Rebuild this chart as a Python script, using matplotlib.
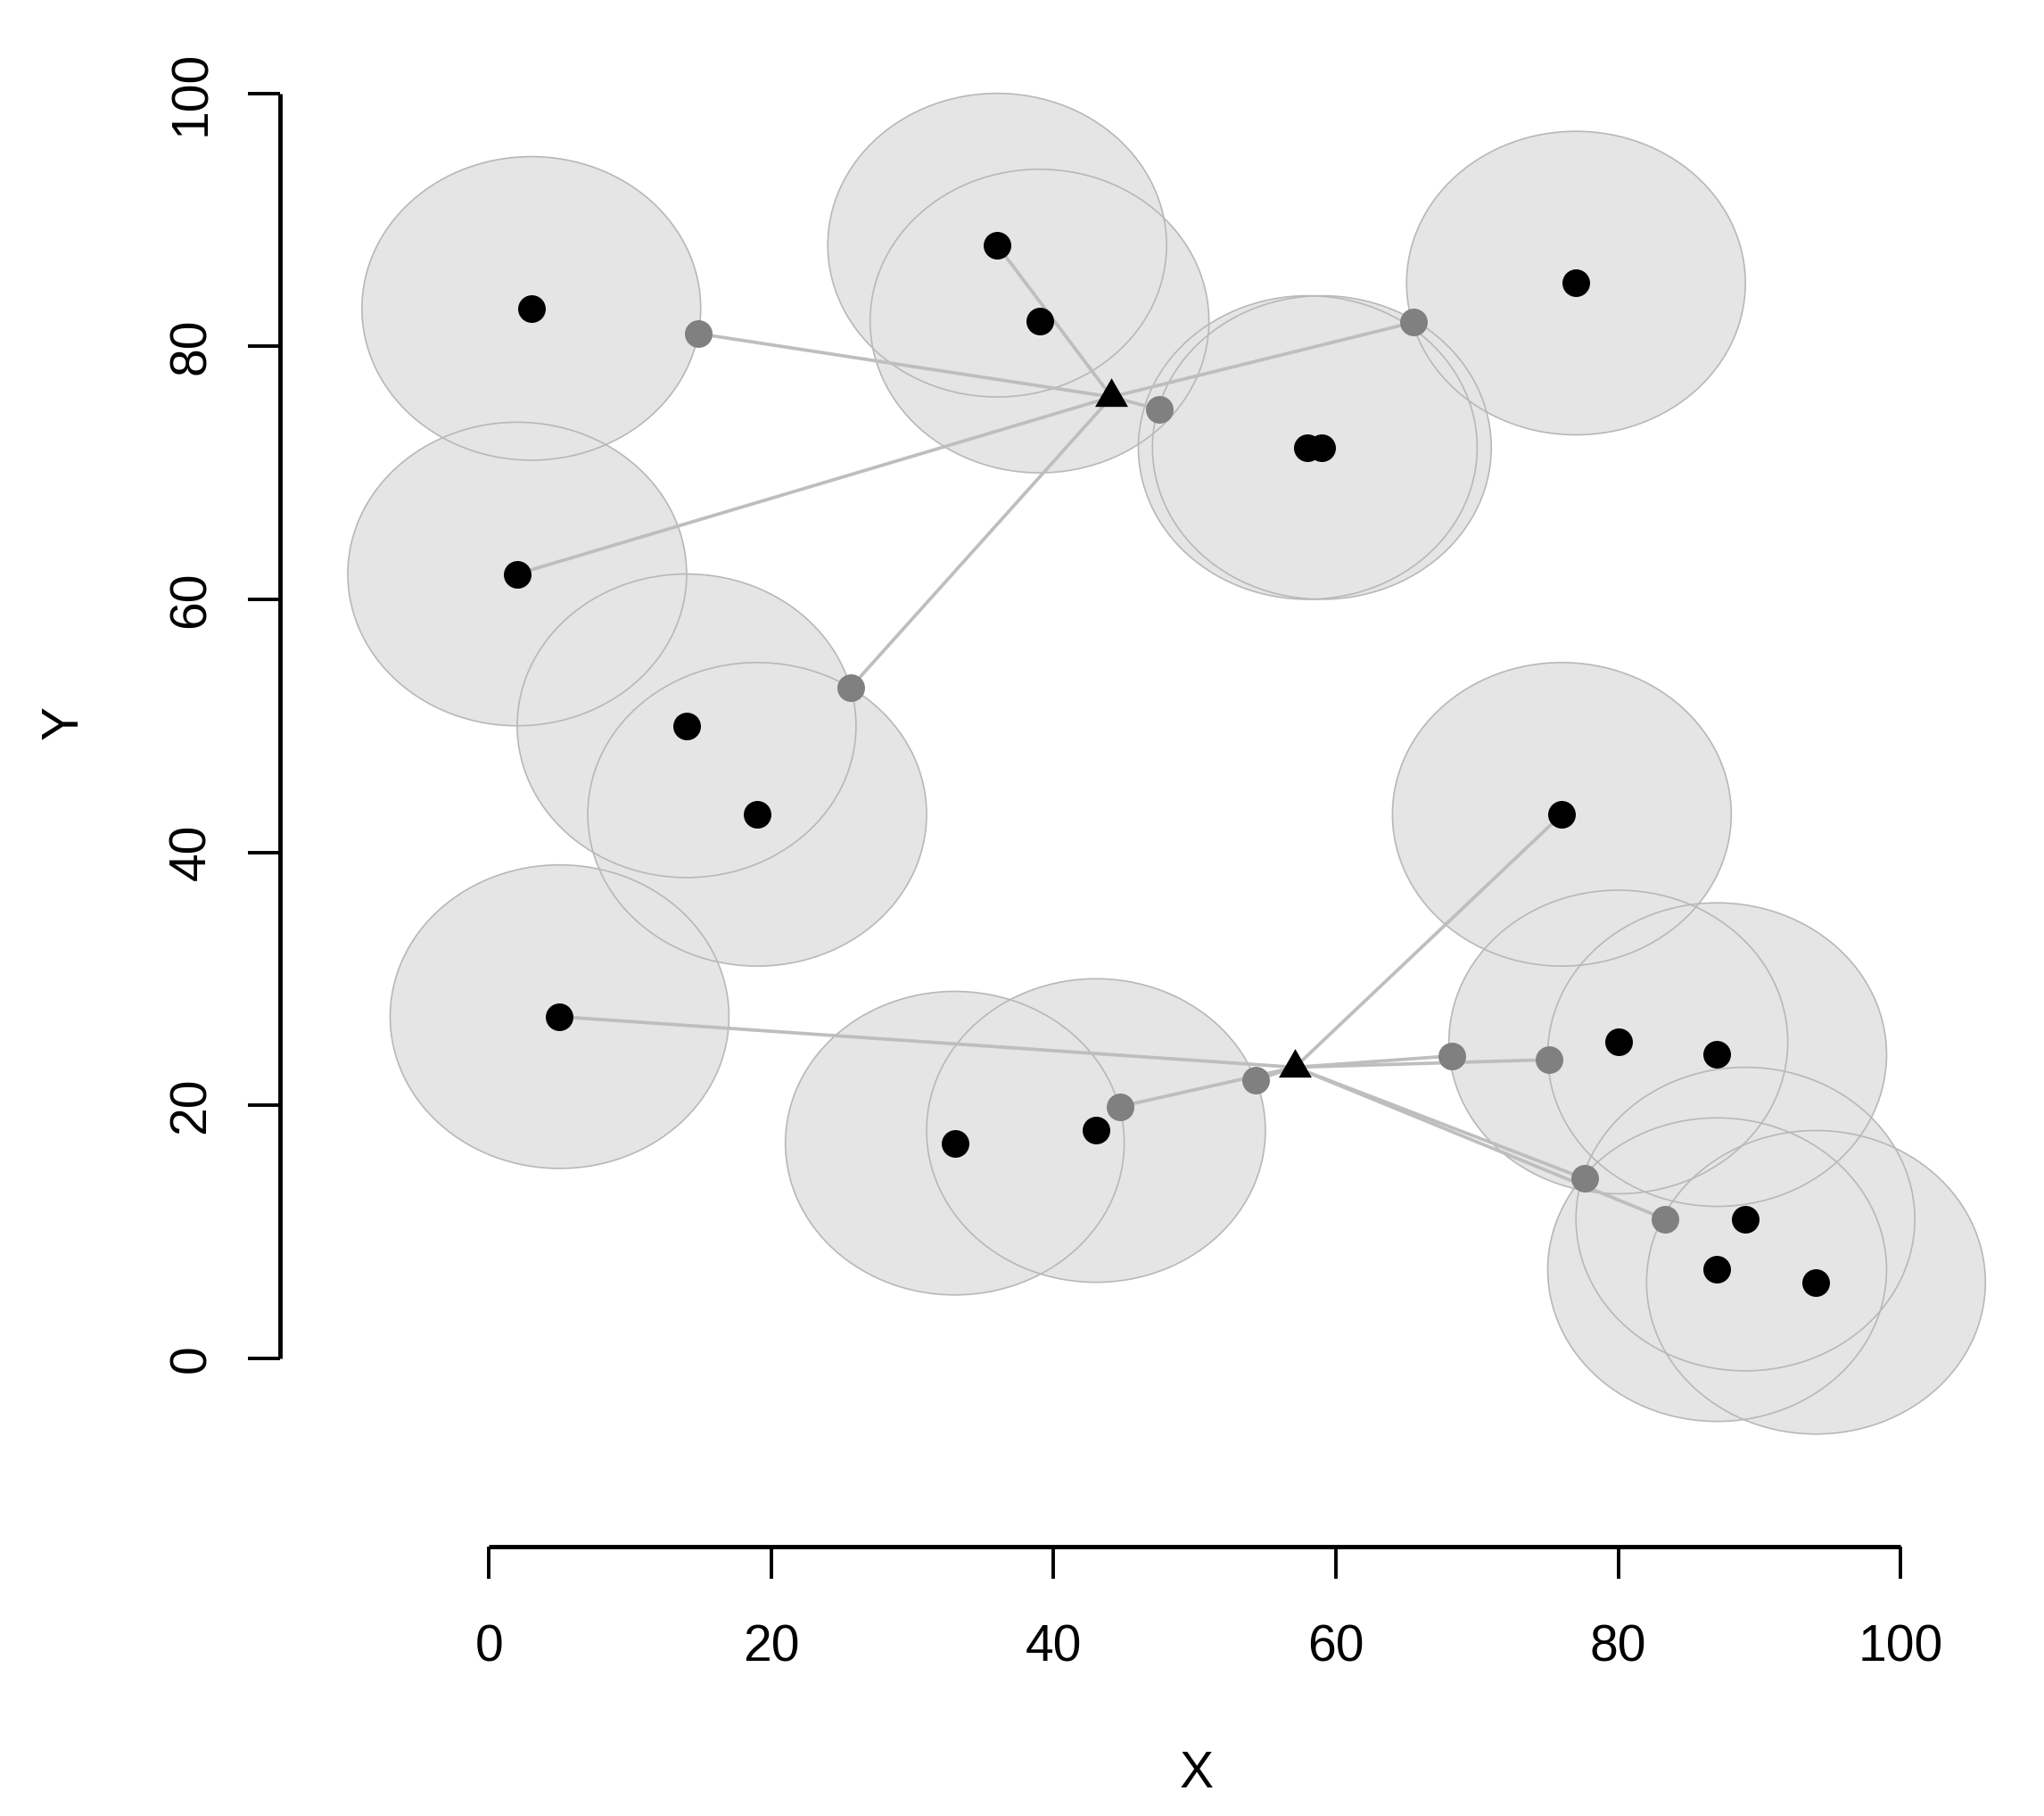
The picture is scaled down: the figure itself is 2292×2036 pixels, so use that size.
import matplotlib
matplotlib.use("Agg")
import matplotlib.pyplot as plt
from matplotlib.patches import Circle

# puntos de demanda (negros), cada uno con su región circular
punto_x = [3, 36, 39, 77, 58, 59, 2, 14, 19,
           5, 33, 43, 76, 80, 87, 89, 87, 94]
punto_y = [83, 88, 82, 85, 72, 72, 62, 50, 43,
           27, 17, 18, 43, 25, 24, 11, 7, 6]
radio = 12

# instalaciones (triángulos)
centro_x = [44.1, 57.1]
centro_y = [76.0, 23.0]

# puntos más cercanos sobre los círculos (grises)
gris_x = [14.85, 65.5, 47.5, 25.6, 44.7, 54.3, 68.2, 75.1, 77.6, 83.3]
gris_y = [81.0, 81.9, 75.0, 53.0, 19.9, 22.0, 23.9, 23.6, 14.2, 11.0]

# enlaces: índice de instalación -> extremo
enlace_centro = [0, 0, 0, 0, 0, 0, 1, 1, 1, 1, 1, 1, 1, 1]
enlace_x = [14.85, 65.5, 47.5, 25.6, 2, 36, 5, 76, 44.7, 54.3, 68.2, 75.1, 77.6, 83.3]
enlace_y = [81.0, 81.9, 75.0, 53.0, 62, 88, 27, 43, 19.9, 22.0, 23.9, 23.6, 14.2, 11.0]

ticks = [0, 20, 40, 60, 80, 100]

plt.rcParams['font.family'] = ['Liberation Sans', 'DejaVu Sans']

fig = plt.figure(figsize=(22.92, 20.36), dpi=100)
ax = fig.add_axes([0.1370, 0.14833, 0.84813, 0.84204])
ax.set_xlim(-14.8, 108)
ax.set_ylim(-14.9, 106)

# regiones: primero el relleno, luego los bordes
for x, y in zip(punto_x, punto_y):
    ax.add_patch(Circle((x, y), radio, facecolor='#E5E5E5', edgecolor='none', zorder=1))
for x, y in zip(punto_x, punto_y):
    ax.add_patch(Circle((x, y), radio, fill=False, edgecolor='#B8B8B8', lw=1.2, zorder=2))

for c, ex, ey in zip(enlace_centro, enlace_x, enlace_y):
    ax.plot([centro_x[c], ex], [centro_y[c], ey], color='#BEBEBE', lw=2.7,
            solid_capstyle='butt', zorder=3)

ax.plot(gris_x, gris_y, 'o', ms=22.3, color='#808080', mec='none', zorder=4)
ax.plot(punto_x, punto_y, 'o', ms=22.3, color='black', mec='none', zorder=5)

# triángulo centrado en su baricentro, como pch=17 de R
triangulo = [(0, 1), (-0.866, -0.5), (0.866, -0.5), (0, 1)]
ax.plot(centro_x, centro_y, linestyle='none', marker=triangulo, ms=30.7,
        color='black', mec='none', zorder=6)

for lado in ['top', 'right']:
    ax.spines[lado].set_visible(False)
for lado in ['left', 'bottom']:
    ax.spines[lado].set_bounds(0, 100)
    ax.spines[lado].set_linewidth(3.5)
    ax.spines[lado].set_capstyle('butt')

ax.set_xticks(ticks)
ax.set_yticks(ticks)
ax.tick_params(axis='both', direction='out', length=26, width=2.8, labelsize=41)
ax.tick_params(axis='x', pad=36)
ax.tick_params(axis='y', pad=26, labelrotation=90)
plt.setp(ax.get_yticklabels(), va='center')

fig.text(1342 / 2292, 1 - 2003.5 / 2036, 'X', ha='center', va='baseline', fontsize=41)
fig.text(87 / 2292, 1 - 810 / 2036, 'Y', rotation=90, rotation_mode='anchor',
         ha='center', va='baseline', fontsize=41)

fig.savefig('out.png', dpi=100)
